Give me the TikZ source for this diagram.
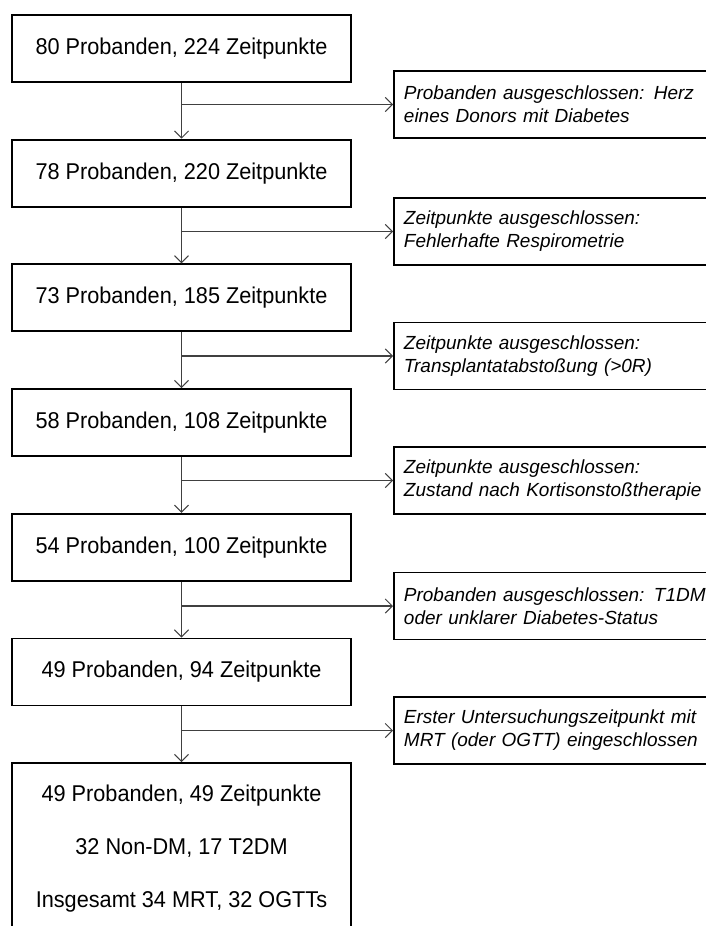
\documentclass[tikz,border=0pt]{standalone}
\usepackage{fontspec}
\setmainfont{Liberation Sans}
\newfontfamily\stagefont[FakeStretch=0.95]{Liberation Sans}
\usepackage{tikz}
\usetikzlibrary{arrows.meta}

\begin{document}
\begin{tikzpicture}[x=0.02cm,y=-0.02cm,
  >={Straight Barb[length=4pt,width=8pt]},
  stage/.style={draw=black,line width=1.1pt,minimum width=6.78cm,minimum height=1.34cm,
    inner sep=0pt,align=center,font=\stagefont\fontsize{13}{15}\selectfont},
  excl/.style={draw=black,line width=1.1pt,anchor=west,minimum height=1.34cm,
    inner xsep=0.2cm,text width=6.5cm,align=left,font=\fontsize{10.8}{13}\selectfont\itshape},
  flow/.style={draw=black!75,line width=0.6pt}]

% Page frame (right side and bottom are cut off)
\useasboundingbox (0,0) rectangle (706,926);

%Define layout parameters
\def\cx{181.5}       %x of the main column.
\def\sx{393}         %left edge of the exclusion boxes.

% Main column
\node[stage] (s1) at (\cx,48.5)  {80 Probanden, 224 Zeitpunkte};
\node[stage] (s2) at (\cx,173.2) {78 Probanden, 220 Zeitpunkte};
\node[stage] (s3) at (\cx,297.9) {73 Probanden, 185 Zeitpunkte};
\node[stage] (s4) at (\cx,422.6) {58 Probanden, 108 Zeitpunkte};
\node[stage] (s5) at (\cx,547.3) {54 Probanden, 100 Zeitpunkte};
\node[stage] (s6) at (\cx,672)   {49 Probanden, 94 Zeitpunkte};
\node[stage,minimum height=3.42cm,font=\stagefont\fontsize{13}{30}\selectfont] (s7) at (\cx,848.5)
  {49 Probanden, 49 Zeitpunkte\\32 Non-DM, 17 T2DM\\Insgesamt 34 MRT, 32 OGTTs};

% Exclusions
\node[excl] (x1) at (\sx,104.5) {Probanden ausgeschlossen: Herz\\eines Donors mit Diabetes};
\node[excl] (x2) at (\sx,231.5) {Zeitpunkte ausgeschlossen:\\Fehlerhafte Respirometrie};
\node[excl] (x3) at (\sx,356)   {Zeitpunkte ausgeschlossen:\\Transplantatabsto{\ss}ung (>0R)};
\node[excl] (x4) at (\sx,480.5) {Zeitpunkte ausgeschlossen:\\Zustand nach Kortisonsto{\ss}therapie};
\node[excl] (x5) at (\sx,606)   {Probanden ausgeschlossen: T1DM\\oder unklarer Diabetes-Status};
\node[excl] (x6) at (\sx,730.5) {Erster Untersuchungszeitpunkt mit\\MRT (oder OGTT) eingeschlossen};

% Flow arrows
\draw[flow,->] (s1) -- (s2);
\draw[flow,->] (s2) -- (s3);
\draw[flow,->] (s3) -- (s4);
\draw[flow,->] (s4) -- (s5);
\draw[flow,->] (s5) -- (s6);
\draw[flow,->] (s6) -- (s7);

% Branches to the exclusions
\draw[flow,->] (s1.south |- x1.west) -- (x1.west);
\draw[flow,->] (s2.south |- x2.west) -- (x2.west);
\draw[flow,->] (s3.south |- x3.west) -- (x3.west);
\draw[flow,->] (s4.south |- x4.west) -- (x4.west);
\draw[flow,->] (s5.south |- x5.west) -- (x5.west);
\draw[flow,->] (s6.south |- x6.west) -- (x6.west);

\end{tikzpicture}
\end{document}
